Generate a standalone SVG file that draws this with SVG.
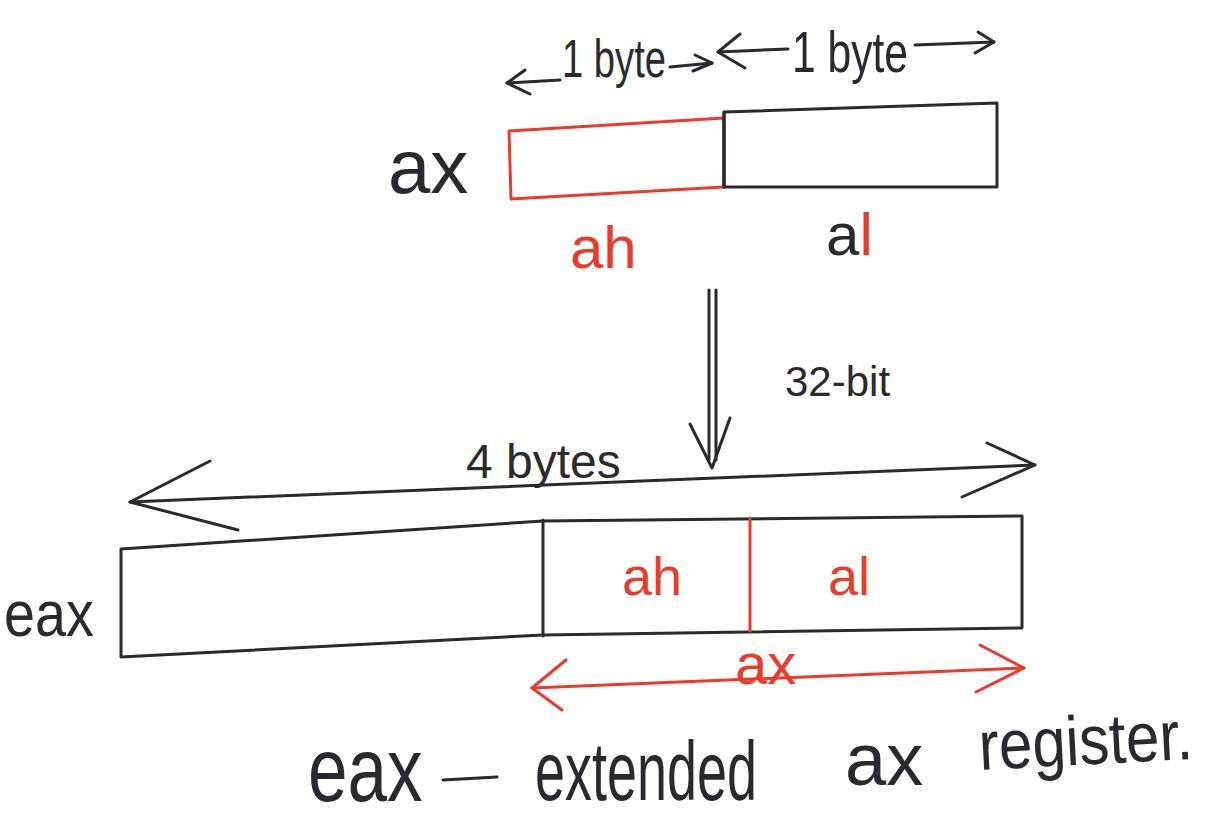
<svg xmlns="http://www.w3.org/2000/svg" width="1217" height="825" viewBox="0 0 1217 825">
<defs>
<style>
.k{stroke:#2a2a2e;fill:none;stroke-width:3;stroke-linecap:round;stroke-linejoin:round}
.r{stroke:#ec3a2c;fill:none;stroke-width:3;stroke-linecap:round;stroke-linejoin:round}
.t{font-family:"Liberation Sans",Arial,sans-serif;fill:#2a2a2e}
.tr{font-family:"Liberation Sans",Arial,sans-serif;fill:#ec3a2c}
</style>
</defs>
<rect width="1217" height="825" fill="#ffffff"/>

<g id="ax-register">
<text class="t" x="388" y="193" font-size="76">ax</text>
<path id="ah-box" class="r" d="M509,131 L724,118 L724,187 L511,199 Z"/>
<path id="al-box" class="k" d="M724,112 L997,103 L997,187 L724,187 Z"/>
<line class="k" x1="724" y1="112" x2="724" y2="187"/>
<text class="tr" x="570" y="268" font-size="60">ah</text>
<text class="t" x="826" y="255" font-size="60">a<tspan fill="#ec3a2c">l</tspan></text>
</g>

<g id="byte-labels">
<text class="t" transform="translate(562,77) scale(0.707,1)" font-size="54">1 byte</text>
<text class="t" transform="translate(792,72) scale(0.734,1)" font-size="58">1 byte</text>
</g>

<g id="eax-register">
<text class="t" transform="translate(4,636) scale(0.87,1)" font-size="64">eax</text>
<path class="k" d="M121,549 L543,521 L1022,516 L1022,628 L543,635 L121,657 Z"/>
<line class="k" x1="543" y1="520" x2="543" y2="636"/>
<line class="r" x1="750" y1="518" x2="750" y2="631"/>
<text class="tr" x="622" y="595" font-size="54">ah</text>
<text class="tr" x="828" y="595" font-size="54">al</text>
</g>

<g id="labels">
<text class="t" x="785" y="396" font-size="42">32-bit</text>
<text class="t" x="466" y="478" font-size="48">4 bytes</text>
<text class="tr" x="735" y="684" font-size="58">ax</text>
<text class="t" transform="translate(308,801) scale(0.79,1)" font-size="90">eax</text>
<path class="k" d="M443,780 L497,777"/>
<text class="t" transform="translate(535,800) scale(0.642,1)" font-size="84">extended</text>
<text class="t" x="845" y="785" font-size="74">ax</text>
<text class="t" transform="translate(980,770) rotate(-3) scale(0.86,1)" font-size="70">register.</text>
</g>

<g id="connectors">
<path class="k" d="M507,83 L560,80"/>
<path class="k" d="M525,70 L507,83 L530,94"/>
<path class="k" d="M670,67 L712,63"/>
<path class="k" d="M695,55 L712,63 L693,71"/>
<path class="k" d="M718,52 L788,49"/>
<path class="k" d="M740,34 L718,52 L745,68"/>
<path class="k" d="M915,45 L994,42"/>
<path class="k" d="M978,32 L994,42 L975,53"/>
<path class="k" d="M709,290 L709,460"/>
<path class="k" d="M716,290 L716,460"/>
<path class="k" d="M690,424 L712,468 L730,418"/>
<path class="k" d="M130,502 L1035,465"/>
<path class="k" d="M210,461 L130,502 L238,530"/>
<path class="k" d="M987,443 L1035,465 L962,497"/>
<path class="r" d="M532,688 L1024,668"/>
<path class="r" d="M566,660 L532,688 L562,710"/>
<path class="r" d="M980,645 L1024,668 L976,692"/>
</g>
</svg>
